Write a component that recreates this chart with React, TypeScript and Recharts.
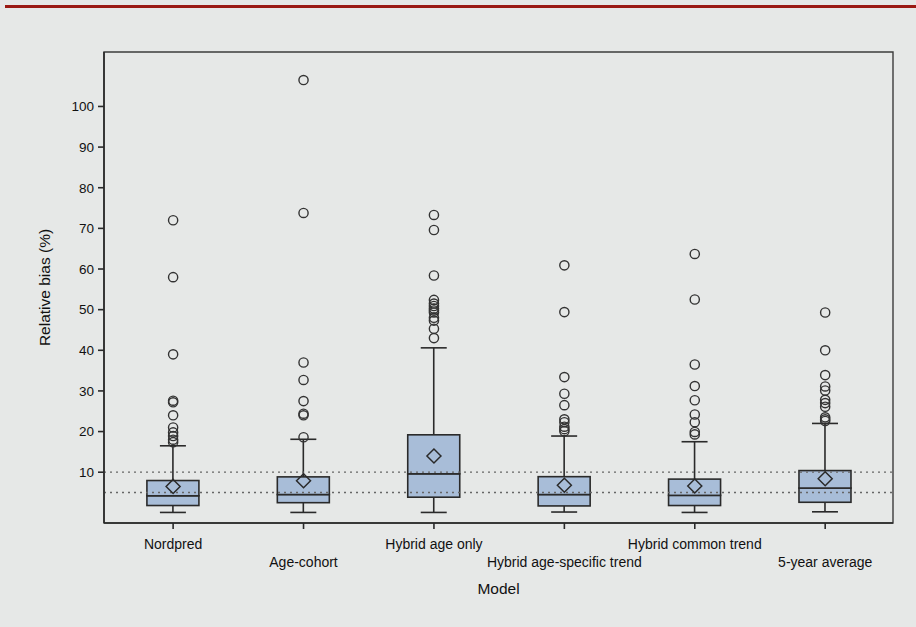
import { Bar, ComposedChart, ReferenceArea, ReferenceLine, Scatter, XAxis, YAxis } from "recharts";

const models = [
  "Nordpred",
  "Age-cohort",
  "Hybrid age only",
  "Hybrid age-specific trend",
  "Hybrid common trend",
  "5-year average"
];
const whiskerLow = [0.1, 0.1, 0.1, 0.2, 0.1, 0.25];
const q1 = [1.8, 2.5, 3.85, 1.7, 1.8, 2.6];
const median = [4.2, 4.5, 9.6, 4.5, 4.3, 6.1];
const q3 = [7.95, 8.85, 19.2, 8.9, 8.3, 10.4];
const whiskerHigh = [16.5, 18.1, 40.6, 18.9, 17.5, 22.0];
const means = [6.5, 7.9, 14.0, 6.8, 6.6, 8.4];
const outliers = [
  [72, 58, 39, 27.6, 27.2, 24, 21, 19.8, 18.9, 18, 17.4],
  [106.5, 73.8, 37, 32.7, 27.5, 24.4, 24.0, 18.6],
  [73.3, 69.6, 58.4, 52.4, 51.5, 50.9, 50.3, 49.8, 49.3, 48.0, 47.3, 45.3, 43.0],
  [60.9, 49.4, 33.4, 29.3, 26.5, 23.0, 22.3, 21.2, 20.6, 20.1],
  [63.7, 52.5, 36.5, 31.2, 27.7, 24.2, 22.3, 19.9, 19.3],
  [49.3, 40.0, 33.9, 31.1, 30.1, 27.8, 27.0, 26.1, 23.5, 23.0, 22.6]
];
const yTicks = [5, 10, 20, 30, 40, 50, 60, 70, 80, 90, 100];
const refLines = [5, 10];
const xDomain = [0.47, 6.52];
const yDomain = [-2.5, 113.4];

const boxData = models.map((m, i) => ({
  x: i + 1,
  base: whiskerLow[i],
  lowWhisker: q1[i] - whiskerLow[i],
  boxLow: median[i] - q1[i],
  boxHigh: q3[i] - median[i],
  highWhisker: whiskerHigh[i] - q3[i]
}));
const meanData = means.map((v, i) => ({ x: i + 1, y: v }));
const outlierData = outliers.flatMap((list, i) => list.map((v) => ({ x: i + 1, y: v })));

const font = "'Liberation Sans', Arial, Helvetica, sans-serif";
const ink = "#2a2a2a";
const boxFill = "#a8bdd8";

const Empty = () => <g />;

const LowWhisker = (p: any) => {
  const cx = p.x + p.width / 2;
  const bottom = p.y + p.height;
  return (
    <g stroke={ink} strokeWidth={1.6}>
      <line x1={cx} x2={cx} y1={p.y} y2={bottom} />
      <line x1={cx - 13} x2={cx + 13} y1={bottom} y2={bottom} />
    </g>
  );
};

const HighWhisker = (p: any) => {
  const cx = p.x + p.width / 2;
  return (
    <g stroke={ink} strokeWidth={1.6}>
      <line x1={cx} x2={cx} y1={p.y} y2={p.y + p.height} />
      <line x1={cx - 13} x2={cx + 13} y1={p.y} y2={p.y} />
    </g>
  );
};

const BoxPart = (p: any) => (
  <rect x={p.x} y={p.y} width={p.width} height={p.height} fill={boxFill} stroke={ink} strokeWidth={1.6} />
);

const Diamond = (p: any) => (
  <polygon
    points={`${p.cx},${p.cy - 7} ${p.cx + 7},${p.cy} ${p.cx},${p.cy + 7} ${p.cx - 7},${p.cy}`}
    fill="none"
    stroke={ink}
    strokeWidth={1.5}
  />
);

const Ring = (p: any) => <circle cx={p.cx} cy={p.cy} r={4.6} fill="none" stroke="#333" strokeWidth={1.4} />;

const ModelTick = (p: any) => {
  const i = Math.round(p.payload.value) - 1;
  return (
    <text x={p.x} y={p.y} dy={i % 2 === 0 ? 18 : 35.5} textAnchor="middle" fontSize={14} fill="#111" fontFamily={font}>
      {models[i]}
    </text>
  );
};

export default function App() {
  return (
    <div style={{ position: "absolute", left: 0, top: 0, width: 916, height: 627, background: "#e6e8e7" }}>
      <div style={{ position: "absolute", left: 5, right: 0, top: 5, height: 3, background: "#9a1a14" }} />
      <ComposedChart width={916} height={627} data={boxData} margin={{ top: 52, right: 23, bottom: 0, left: 0 }}>
        <ReferenceArea
          x1={xDomain[0]}
          x2={xDomain[1]}
          y1={yDomain[0]}
          y2={yDomain[1]}
          fill="none"
          fillOpacity={0}
          stroke="#3c3c3c"
          strokeWidth={1.4}
        />
        <XAxis
          type="number"
          dataKey="x"
          domain={xDomain}
          allowDataOverflow
          ticks={[1, 2, 3, 4, 5, 6]}
          height={104}
          stroke={ink}
          strokeWidth={1.6}
          tickSize={6}
          tickMargin={2}
          tick={<ModelTick />}
          label={(props: any) => {
            const vb = props.viewBox;
            return (
              <text x={vb.x + vb.width / 2} y={594} textAnchor="middle" fontSize={15.5} fill="#111" fontFamily={font}>
                Model
              </text>
            );
          }}
        />
        <YAxis
          type="number"
          domain={yDomain}
          allowDataOverflow
          ticks={yTicks}
          width={104}
          stroke={ink}
          strokeWidth={1.6}
          tickSize={6}
          tickMargin={4}
          tick={{ fill: "#111", fontSize: 13.5, fontFamily: font }}
          label={(props: any) => {
            const vb = props.viewBox;
            const cy = vb.y + vb.height / 2;
            return (
              <text x={45} y={cy} transform={`rotate(-90 45 ${cy})`} dy={5} textAnchor="middle" fontSize={15.5} fill="#111" fontFamily={font}>
                Relative bias (%)
              </text>
            );
          }}
        />
        <Bar dataKey="base" stackId="box" barSize={52} shape={<Empty />} isAnimationActive={false} />
        <Bar dataKey="lowWhisker" stackId="box" barSize={52} shape={<LowWhisker />} isAnimationActive={false} />
        <Bar dataKey="boxLow" stackId="box" barSize={52} shape={<BoxPart />} isAnimationActive={false} />
        <Bar dataKey="boxHigh" stackId="box" barSize={52} shape={<BoxPart />} isAnimationActive={false} />
        <Bar dataKey="highWhisker" stackId="box" barSize={52} shape={<HighWhisker />} isAnimationActive={false} />
        {refLines.map((v) => (
          <ReferenceLine key={v} y={v} stroke="#666" strokeWidth={1.3} strokeDasharray="2 4" />
        ))}
        <Scatter data={meanData} dataKey="y" shape={<Diamond />} isAnimationActive={false} />
        <Scatter data={outlierData} dataKey="y" shape={<Ring />} isAnimationActive={false} />
      </ComposedChart>
    </div>
  );
}
